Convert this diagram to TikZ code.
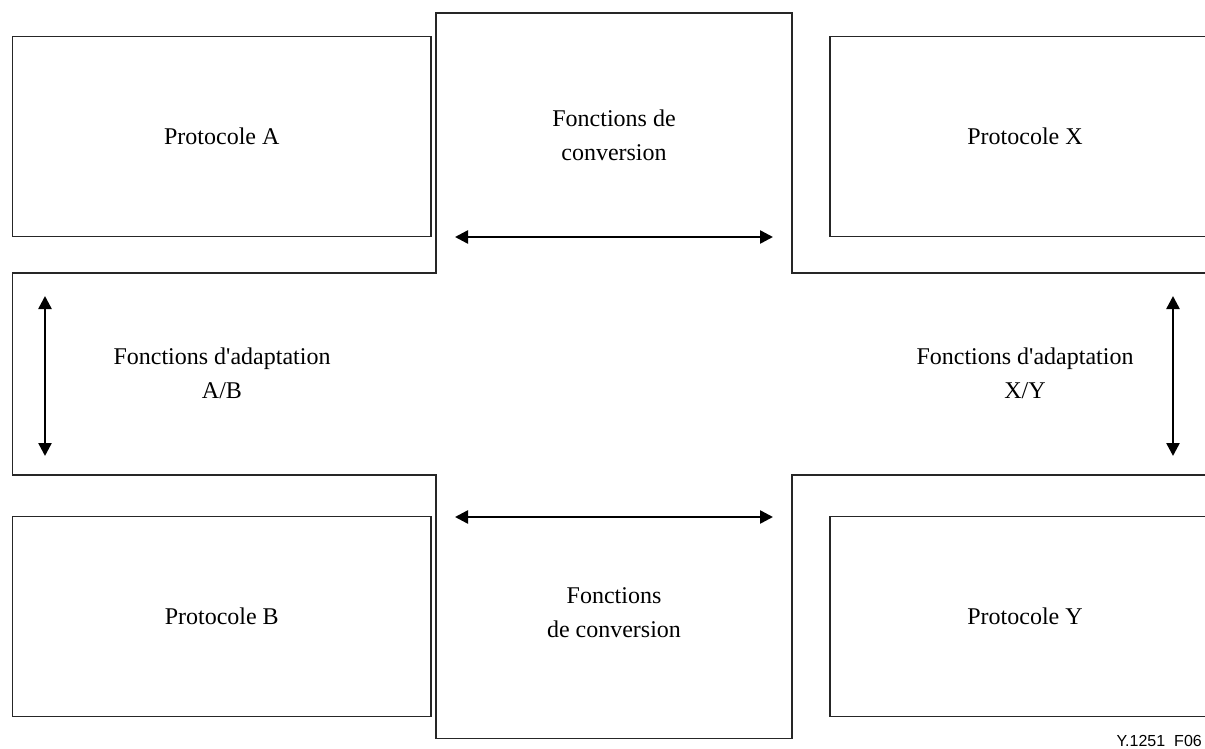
\documentclass[tikz,border=0pt]{standalone}
\usepackage{fontspec}
\setmainfont{Liberation Serif}
\newfontfamily\labelfont{Liberation Sans}
\usetikzlibrary{arrows.meta}
\tikzset{
  outline/.style={draw=black!85, line width=1.2pt},
  protobox/.style={outline, minimum height=200pt, inner sep=0pt,
    font=\fontsize{24}{30}\selectfont},
  caption/.style={align=center, inner sep=0pt,
    font=\fontsize{24}{34}\selectfont},
  twoway/.style={line width=2.5pt, {Triangle[length=13pt,width=13pt]}-{Triangle[length=13pt,width=13pt]}}
}
\begin{document}
\begin{tikzpicture}[x=1pt, y=-1pt]
\useasboundingbox (0,0) rectangle (1205,749);
\clip (0,0) rectangle (1205,749);

% protocol boxes
\node[protobox, minimum width=418.5pt] (pa) at (221.75,136.25) {Protocole A};
\node[protobox, minimum width=418.5pt] (pb) at (221.75,616.75) {Protocole B};
\node[protobox, minimum width=390pt] (px) at (1025,136.25) {Protocole X};
\node[protobox, minimum width=390pt] (py) at (1025,616.75) {Protocole Y};

% cross-shaped region of the conversion and adaptation functions
\draw[outline] (1230,273) -- (792,273) -- (792,13) -- (436,13) -- (436,273)
  -- (12.5,273) -- (12.5,475) -- (436,475) -- (436,738.5) -- (792,738.5)
  -- (792,475) -- (1230,475);

\node[caption] (convtop) at (614,135) {Fonctions de\\conversion};
\node[caption] (convbot) at (614,613) {Fonctions\\de conversion};
\node[caption] (adab) at (222,373) {Fonctions d\textquotesingle adaptation\\A/B};
\node[caption] (adxy) at (1025,373) {Fonctions d\textquotesingle adaptation\\X/Y};

% two-way arrows
\coordinate (t1) at (455,237);  \coordinate (t2) at (773,237);
\coordinate (b1) at (455,517);  \coordinate (b2) at (773,517);
\coordinate (l1) at (45,296);   \coordinate (l2) at (45,456);
\coordinate (r1) at (1173,296); \coordinate (r2) at (1173,456);
\draw[twoway] (t1) -- (t2);
\draw[twoway] (b1) -- (b2);
\draw[twoway] (l1) -- (l2);
\draw[twoway] (r1) -- (r2);

\node[anchor=base east, inner sep=0pt, font=\labelfont\fontsize{16}{18}\selectfont]
  (ref) at (1202,746) {Y.1251\hspace{9pt}F06};
\end{tikzpicture}
\end{document}
